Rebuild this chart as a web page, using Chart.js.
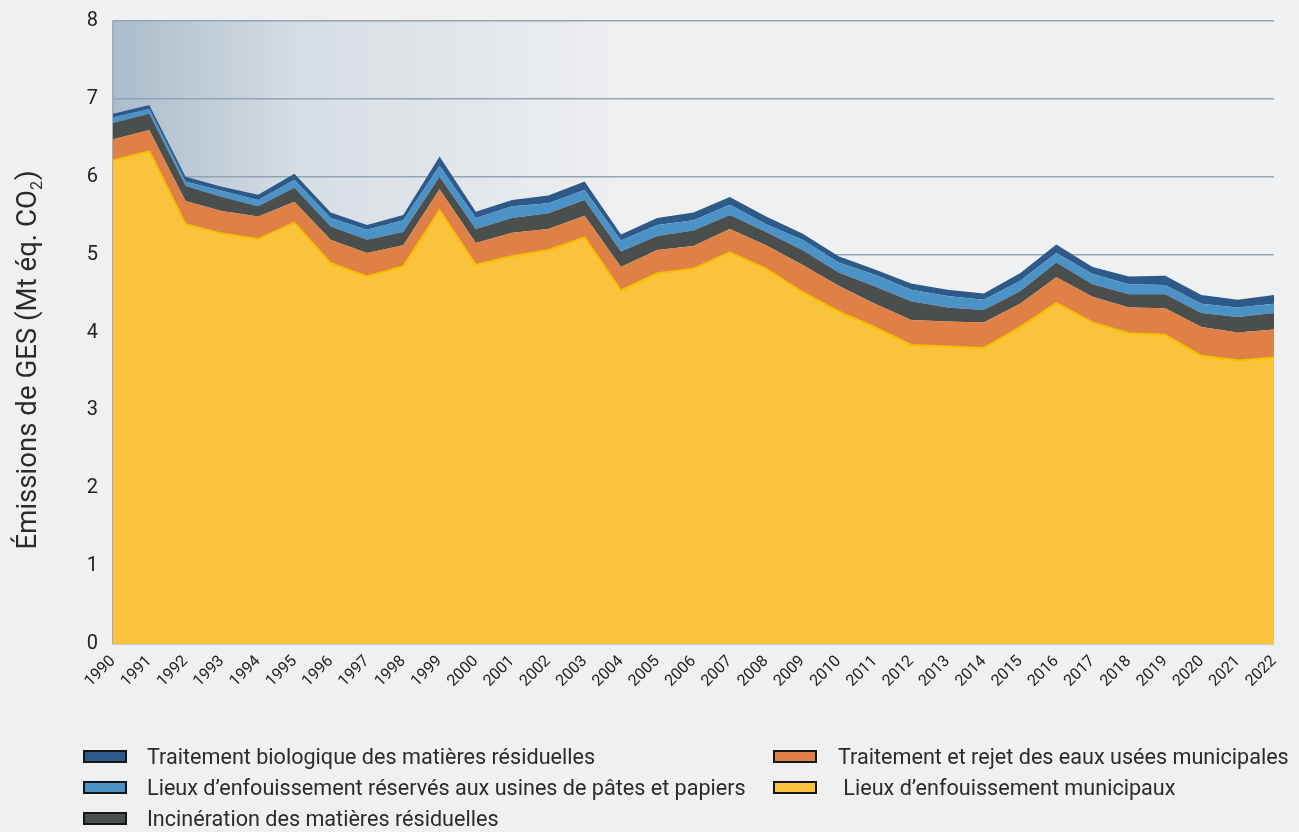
<!DOCTYPE html>
<html lang="fr">
<head>
<meta charset="utf-8">
<title>Émissions de GES – matières résiduelles</title>
<script src="https://cdn.jsdelivr.net/npm/chart.js@4.4.1/dist/chart.umd.min.js"></script>
<style>
  html, body { margin: 0; padding: 0; background: #eff0f2; }
  #wrap { position: relative; width: 1299px; height: 832px; overflow: hidden; }
  #c { position: absolute; left: 0; top: 0; }
  .lg { position: absolute; height: 24px; font-family: Roboto, "Liberation Sans", sans-serif;
        font-size: 21.6px; line-height: 24px; color: #2b2b2b; white-space: pre; }
  .lg .sw { position: absolute; left: 0; top: 5px; width: 40px; height: 9px; border: 2px solid #151515; }
  .lg .t { position: absolute; top: 0; }
</style>
</head>
<body>
<div id="wrap">
  <canvas id="c" width="1299" height="832"></canvas>
  <div id="legend"></div>
</div>
<script>
// Years shown on the horizontal axis
const years = ['1990','1991','1992','1993','1994','1995','1996','1997','1998','1999',
               '2000','2001','2002','2003','2004','2005','2006','2007','2008','2009',
               '2010','2011','2012','2013','2014','2015','2016','2017','2018','2019',
               '2020','2021','2022'];

// Emissions by source, Mt CO2 eq. (stacked from bottom to top)
const lieuxMunicipaux = [6.21,6.33,5.39,5.27,5.20,5.41,4.89,4.72,4.85,5.57,
                         4.87,4.98,5.06,5.22,4.54,4.76,4.82,5.03,4.82,4.52,
                         4.27,4.07,3.84,3.82,3.80,4.07,4.38,4.13,3.99,3.97,
                         3.70,3.64,3.68];
const eauxUsees = [0.27,0.27,0.30,0.29,0.29,0.27,0.30,0.30,0.27,0.27,
                   0.28,0.30,0.27,0.28,0.30,0.30,0.29,0.30,0.30,0.35,
                   0.33,0.30,0.32,0.32,0.33,0.30,0.33,0.33,0.33,0.34,
                   0.37,0.36,0.36];
const incineration = [0.21,0.21,0.19,0.18,0.13,0.18,0.17,0.17,0.17,0.16,
                      0.18,0.19,0.20,0.20,0.20,0.18,0.20,0.18,0.17,0.19,
                      0.17,0.22,0.24,0.18,0.16,0.16,0.19,0.16,0.17,0.18,
                      0.18,0.20,0.21];
const patespapiers = [0.07,0.06,0.06,0.08,0.08,0.10,0.11,0.13,0.15,0.14,
                      0.14,0.15,0.13,0.13,0.14,0.14,0.13,0.13,0.10,0.13,
                      0.13,0.15,0.15,0.15,0.13,0.13,0.12,0.13,0.13,0.12,
                      0.12,0.12,0.12];
const biologique = [0.05,0.05,0.06,0.05,0.07,0.08,0.07,0.06,0.07,0.12,
                    0.08,0.08,0.10,0.11,0.08,0.09,0.10,0.10,0.10,0.08,
                    0.08,0.07,0.08,0.08,0.08,0.10,0.11,0.09,0.10,0.12,
                    0.11,0.10,0.11];

// Vertical axis ticks
const yTicks = [0, 1, 2, 3, 4, 5, 6, 7, 8];

const series = [
  { label: ' Lieux d\u2019enfouissement municipaux', data: lieuxMunicipaux, color: '#fbc23c', border: '#f6bf00', bw: 2 },
  { label: 'Traitement et rejet des eaux usées municipales', data: eauxUsees, color: '#df8047', border: '#df8047', bw: 0 },
  { label: 'Incinération des matières résiduelles', data: incineration, color: '#4a4f4d', border: '#4a4f4d', bw: 0 },
  { label: 'Lieux d\u2019enfouissement réservés aux usines de pâtes et papiers', data: patespapiers, color: '#4b93c6', border: '#4b93c6', bw: 0 },
  { label: 'Traitement biologique des matières résiduelles', data: biologique, color: '#2d5a88', border: '#2d5a88', bw: 0 }
];

const FONT = 'Roboto, "Liberation Sans", sans-serif';

// Soft blue-grey wash across the left part of the plot area
const plotWash = {
  id: 'plotWash',
  beforeDatasetsDraw(chart) {
    const { ctx, chartArea: a } = chart;
    const g = ctx.createLinearGradient(a.left, 0, a.left + 520, 0);
    g.addColorStop(0, 'rgba(140,165,185,0.70)');
    g.addColorStop(0.35, 'rgba(140,165,185,0.26)');
    g.addColorStop(1, 'rgba(140,165,185,0)');
    ctx.save();
    ctx.fillStyle = g;
    ctx.fillRect(a.left, a.top, a.right - a.left, a.bottom - a.top);
    ctx.restore();
  }
};

// Rotated y-axis title with subscript 2
const yTitle = {
  id: 'yTitle',
  afterDraw(chart) {
    const ctx = chart.ctx;
    const big = '27.6px ' + FONT, small = '16px ' + FONT;
    ctx.save();
    ctx.translate(29, 360);
    ctx.rotate(-Math.PI / 2);
    ctx.fillStyle = '#2b2b2b';
    ctx.textBaseline = 'middle';
    ctx.textAlign = 'left';
    const main = 'Émissions de GES (Mt éq. CO';
    ctx.font = big;
    const w1 = ctx.measureText(main).width;
    const w3 = ctx.measureText(')').width;
    ctx.font = small;
    const w2 = ctx.measureText('2').width;
    let x = -(w1 + w2 + w3 + 1) / 2;
    ctx.font = big;
    ctx.fillText(main, x, 0);
    x += w1;
    ctx.font = small;
    ctx.fillText('2', x, 9);
    x += w2 + 1;
    ctx.font = big;
    ctx.fillText(')', x, 0);
    ctx.restore();
  }
};

new Chart(document.getElementById('c'), {
  type: 'line',
  data: {
    labels: years,
    datasets: series.map((s, i) => ({
      label: s.label,
      data: s.data,
      backgroundColor: s.color,
      borderColor: s.border,
      borderWidth: s.bw,
      fill: i === 0 ? 'origin' : '-1',
      pointRadius: 0,
      tension: 0
    }))
  },
  options: {
    responsive: false,
    animation: false,
    layout: { padding: { top: 21, right: 25, bottom: 118, left: 0 } },
    plugins: { legend: { display: false }, tooltip: { enabled: false } },
    scales: {
      x: {
        offset: false,
        grid: { display: false, drawTicks: false },
        border: { display: false },
        ticks: {
          color: '#222',
          font: { family: FONT, size: 16 },
          minRotation: 45, maxRotation: 45,
          padding: 8,
          autoSkip: false
        },
        afterFit(scale) { scale.height = 70; }
      },
      y: {
        stacked: true,
        min: 0, max: 8,
        z: 1,
        afterBuildTicks(scale) { scale.ticks = yTicks.map(v => ({ value: v })); },
        grid: { color: 'rgba(60,88,115,0.5)', lineWidth: 1.5, drawTicks: false },
        border: { display: true, color: '#a3adb7', width: 1.5 },
        ticks: {
          color: '#222',
          font: { family: FONT, size: 20 },
          padding: 15
        },
        afterFit(scale) {
          scale.width = 113;
          scale.paddingTop = 0;
          scale.paddingBottom = 0;
        }
      }
    }
  },
  plugins: [plotWash, yTitle]
});

// Legend: two columns, listed column by column
const legendItems = [
  { s: 4, x: 83,  y: 745, tx: 64 },
  { s: 3, x: 83,  y: 776, tx: 64 },
  { s: 2, x: 83,  y: 807, tx: 64 },
  { s: 1, x: 773, y: 745, tx: 65 },
  { s: 0, x: 773, y: 776, tx: 65 }
];
const lg = document.getElementById('legend');
legendItems.forEach(it => {
  const s = series[it.s];
  const d = document.createElement('div');
  d.className = 'lg';
  d.style.left = it.x + 'px';
  d.style.top = it.y + 'px';
  const sw = document.createElement('div');
  sw.className = 'sw';
  sw.style.background = s.color;
  const t = document.createElement('div');
  t.className = 't';
  t.style.left = it.tx + 'px';
  t.textContent = s.label;
  d.appendChild(sw);
  d.appendChild(t);
  lg.appendChild(d);
});
</script>
</body>
</html>
